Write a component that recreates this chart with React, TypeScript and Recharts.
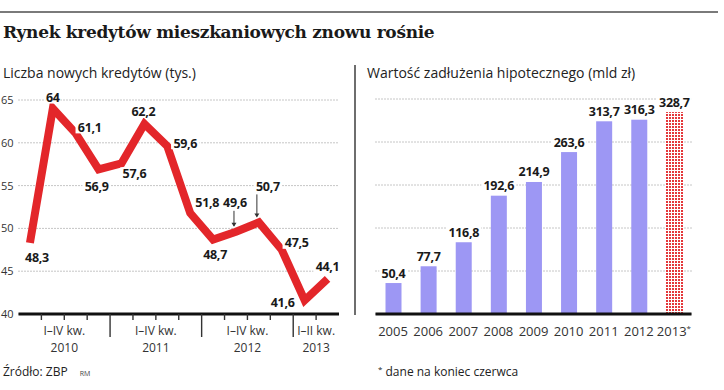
import React from "react";
import {
  Bar,
  BarChart,
  CartesianGrid,
  LabelList,
  Line,
  LineChart,
  XAxis,
  YAxis,
} from "recharts";

// lewy wykres: liczba nowych kredytów (tys.), kwartalnie
const quarters = [
  "I 2010", "II 2010", "III 2010", "IV 2010",
  "I 2011", "II 2011", "III 2011", "IV 2011",
  "I 2012", "II 2012", "III 2012", "IV 2012",
  "I 2013", "II 2013",
];
const newLoans = [48.3, 64, 61.1, 56.9, 57.6, 62.2, 59.6, 51.8, 48.7, 49.6, 50.7, 47.5, 41.6, 44.1];
const yearGroups = ["2010", "2011", "2012", "2013"];
const groupRanges = ["I–IV kw.", "I–IV kw.", "I–IV kw.", "I–II kw."];
const loanTicks = [40, 45, 50, 55, 60, 65];

// prawy wykres: wartość zadłużenia hipotecznego (mld zł)
const debtYears = ["2005", "2006", "2007", "2008", "2009", "2010", "2011", "2012", "2013"];
const debtValues = [50.4, 77.7, 116.8, 192.6, 214.9, 263.6, 313.7, 316.3, 328.7];
const debtTicks = [0, 70, 140, 210, 280, 350];
const projectedYear = "2013";

// where each value label sits relative to its point: [dx, dy, arrow]
const loanLabelOffsets: [number, number, boolean][] = [
  [7, 15, false],
  [0, -11, false],
  [14, -6, false],
  [-2, 17, false],
  [13, 10, false],
  [-1, -12, false],
  [18, -3, false],
  [17, -10, false],
  [2, 15, false],
  [-1, -29, true],
  [9, -36, true],
  [15, -7, false],
  [-22, 2, false],
  [0, -12, false],
];

const colors = {
  line: "#e3262a",
  bar: "#9d97f4",
  projected: "#e4383b",
  grid: "#8c8c8c",
  axis: "#111",
  text: "#1a1a1a",
  muted: "#333",
};

const font = '"Open Sans", sans-serif';

const loanData = quarters.map((q, i) => ({ x: i, quarter: q, value: newLoans[i] }));
const debtData = debtYears.map((year, i) => ({ year, value: debtValues[i] }));

const yearOf = (i: number) => quarters[i]?.split(" ")[1];
const quarterBounds = quarters.slice(0, -1).map((_, i) => i + 0.5);
const groupCenters = yearGroups.map((y) => {
  const idx = quarters.map((q, i) => (q.endsWith(y) ? i : -1)).filter((i) => i >= 0);
  return (idx[0] + idx[idx.length - 1]) / 2;
});

const fmt = (v: number) => String(v).replace(".", ",");

function LoanXTick(props: any) {
  const { x, y, payload } = props;
  const v = payload.value as number;
  const i = Math.floor(v);
  const split = yearOf(i) !== yearOf(i + 1);
  const g = groupCenters.indexOf(v);
  return (
    <g>
      <line x1={x} x2={x} y1={y} y2={y + (split ? 23 : 6)} stroke={colors.muted} strokeWidth={1.4} />
      {g >= 0 && (
        <g>
          <text x={x} y={y + 21} textAnchor="middle" fontSize={12} fill={colors.muted} fontFamily={font}>
            {groupRanges[g]}
          </text>
          <text x={x} y={y + 37.5} textAnchor="middle" fontSize={12} fill={colors.muted} fontFamily={font}>
            {yearGroups[g]}
          </text>
        </g>
      )}
    </g>
  );
}

function LoanYTick(props: any) {
  const { y, payload } = props;
  return (
    <text x={1} y={y + 4} fontSize={11} fill={colors.muted} fontFamily={font}>
      {payload.value}
    </text>
  );
}

function LoanLabel(props: any) {
  const vb = props.viewBox ?? {};
  const px = vb.x ?? props.x;
  const py = vb.y ?? props.y;
  const [dx, dy, arrow] = loanLabelOffsets[props.index] ?? [0, -12, false];
  const text = fmt(props.value);
  const w = text.length * 6.6 + 2;
  const cx = px + dx;
  const cy = py + dy;
  return (
    <g>
      <rect x={cx - w / 2} y={cy - 6} width={w} height={12} fill="#fff" />
      <text x={cx} y={cy + 4.5} textAnchor="middle" fontSize={12.5} fontWeight={700} fill={colors.text} fontFamily={font} letterSpacing={-0.3}>
        {text}
      </text>
      {arrow && (
        <g>
          <line x1={px - 2} x2={px - 2} y1={cy + 8} y2={py - 6} stroke={colors.muted} strokeWidth={1} />
          <path d={`M${px - 4.5} ${py - 9} L${px - 2} ${py - 5} L${px + 0.5} ${py - 9} Z`} fill={colors.muted} />
        </g>
      )}
    </g>
  );
}

function DebtXTick(props: any) {
  const { x, y, payload } = props;
  return (
    <text x={x} y={y + 22} textAnchor="middle" fontSize={13} fill={colors.muted} fontFamily={font}>
      {payload.value}
      {payload.value === projectedYear && (
        <tspan dy={-5} fontSize={8}>*</tspan>
      )}
    </text>
  );
}

function DebtYTick() {
  return <g />;
}

function DebtLabel(props: any) {
  const vb = props.viewBox ?? {};
  const bx = vb.x ?? props.x;
  const by = vb.y ?? props.y;
  const bw = vb.width ?? props.width ?? 0;
  const text = fmt(props.value);
  const w = text.length * 6.6 + 2;
  const cx = bx + bw / 2;
  const cy = by - 10;
  return (
    <g>
      <rect x={cx - w / 2} y={cy - 6} width={w} height={12} fill="#fff" />
      <text x={cx} y={cy + 4.5} textAnchor="middle" fontSize={12.5} fontWeight={700} fill={colors.text} fontFamily={font} letterSpacing={-0.3}>
        {text}
      </text>
    </g>
  );
}

function DebtBar(props: any) {
  const { x, y, width, height, payload } = props;
  if (payload?.year === projectedYear) {
    return <rect x={x - 1} y={y} width={width + 2} height={height} fill="url(#redDots)" />;
  }
  return <rect x={x} y={y} width={width} height={height} fill={colors.bar} />;
}

export default function App() {
  return (
    <div
      style={{
        position: "absolute",
        left: 0,
        top: 0,
        width: 724,
        height: 390,
        background: "#fff",
        fontFamily: font,
        color: colors.text,
        overflow: "hidden",
      }}
    >
      <div style={{ position: "absolute", left: 0, top: 11, width: 718, height: 1.5, background: "#7a7a7a" }} />
      <div
        style={{
          position: "absolute",
          left: 3,
          top: 22,
          fontFamily: '"DejaVu Serif", serif',
          fontWeight: 700,
          fontSize: 17,
          whiteSpace: "nowrap",
          letterSpacing: -0.3,
        }}
      >
        Rynek kredytów mieszkaniowych znowu rośnie
      </div>
      <div style={{ position: "absolute", left: 3, top: 63, fontSize: 14, color: "#222", whiteSpace: "nowrap" }}>
        Liczba nowych kredytów (tys.)
      </div>
      <div style={{ position: "absolute", left: 367, top: 63, fontSize: 14, color: "#222", whiteSpace: "nowrap" }}>
        Wartość zadłużenia hipotecznego (mld zł)
      </div>
      <div style={{ position: "absolute", left: 354, top: 65, width: 2, height: 250, background: "#6e6e6e" }} />

      <div style={{ position: "absolute", left: 0, top: 0 }}>
        <LineChart width={345} height={390} data={loanData} margin={{ top: 100, right: 6, bottom: 46, left: 0 }}>
          <CartesianGrid vertical={false} stroke={colors.grid} strokeDasharray="1 2" />
          <XAxis
            dataKey="x"
            type="number"
            domain={[-0.5, quarters.length - 0.5]}
            ticks={quarterBounds}
            interval={0}
            height={30}
            tickSize={0}
            tickMargin={0}
            tickLine={false}
            axisLine={{ stroke: colors.axis, strokeWidth: 3 }}
            tick={<LoanXTick />}
          />
          <YAxis
            type="number"
            domain={[40, 65]}
            ticks={loanTicks}
            interval={0}
            width={18.5}
            axisLine={false}
            tickLine={false}
            tick={<LoanYTick />}
          />
          <Line
            dataKey="value"
            stroke="none"
            dot={false}
            activeDot={false}
            isAnimationActive={false}
          >
            <LabelList dataKey="value" content={<LoanLabel />} />
          </Line>
          <Line
            dataKey="value"
            type="linear"
            stroke={colors.line}
            strokeWidth={8}
            strokeLinejoin="miter"
            dot={false}
            activeDot={false}
            isAnimationActive={false}
          />
        </LineChart>
      </div>

      <div style={{ position: "absolute", left: 360, top: 0 }}>
        <BarChart width={364} height={390} data={debtData} margin={{ top: 99, right: 32.5, bottom: 46, left: 15.5 }} barSize={16}>
          <defs>
            <pattern id="redDots" width={3} height={3} patternUnits="userSpaceOnUse">
              <rect width={3} height={3} fill="#fff" />
              <rect width={2} height={2} fill={colors.projected} />
            </pattern>
          </defs>
          <CartesianGrid vertical={false} stroke={colors.grid} strokeDasharray="1 2" />
          <XAxis
            dataKey="year"
            height={30}
            tickSize={0}
            tickMargin={0}
            tickLine={false}
            interval={0}
            axisLine={{ stroke: colors.axis, strokeWidth: 3 }}
            tick={<DebtXTick />}
          />
          <YAxis
            type="number"
            domain={[0, 350]}
            ticks={debtTicks}
            interval={0}
            width={0}
            axisLine={false}
            tickLine={false}
            tick={<DebtYTick />}
          />
          <Bar dataKey="value" fill={colors.bar} shape={<DebtBar />} isAnimationActive={false}>
            <LabelList dataKey="value" content={<DebtLabel />} />
          </Bar>
        </BarChart>
      </div>

      <div style={{ position: "absolute", left: 3, top: 363, fontSize: 12, color: "#222", whiteSpace: "nowrap" }}>
        Źródło: ZBP
        <span style={{ fontSize: 7, marginLeft: 12, color: "#444" }}>RM</span>
      </div>
      <div style={{ position: "absolute", left: 378, top: 363, fontSize: 12, color: "#222", whiteSpace: "nowrap" }}>
        <span style={{ fontSize: 8, verticalAlign: 4 }}>*</span> dane na koniec czerwca
      </div>
    </div>
  );
}
